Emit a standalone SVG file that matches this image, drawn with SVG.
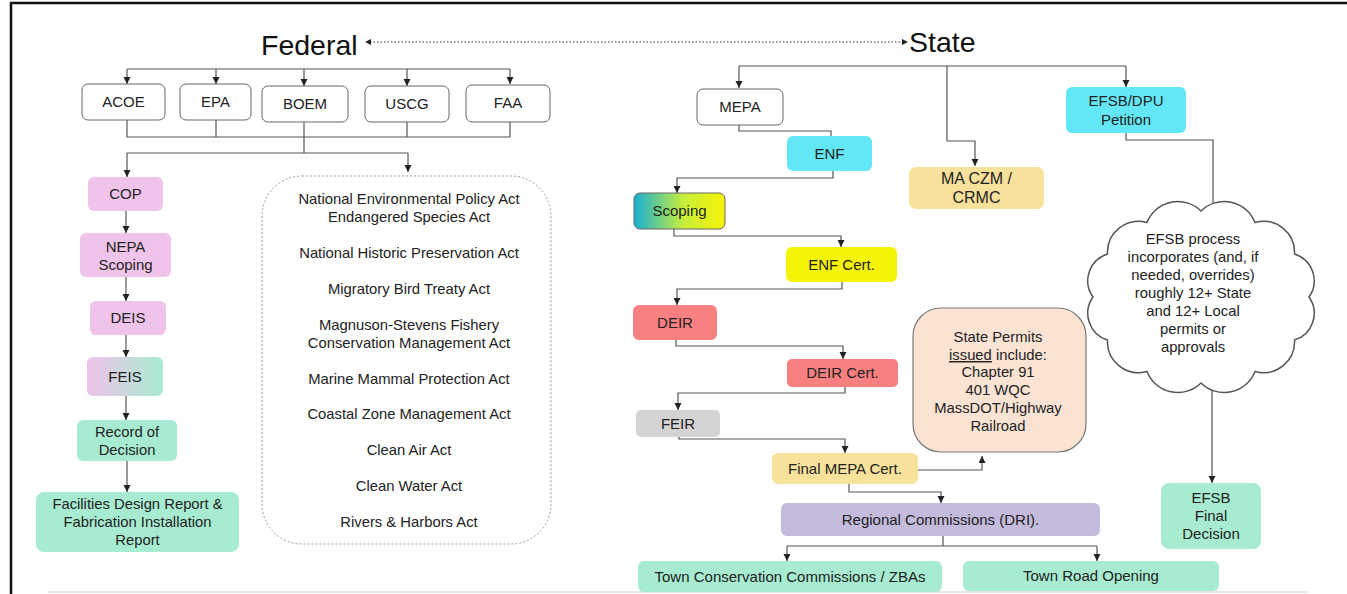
<svg xmlns="http://www.w3.org/2000/svg" width="1347" height="594" viewBox="0 0 1347 594">
<defs>
<marker id="arr" markerUnits="userSpaceOnUse" markerWidth="8" markerHeight="8" refX="7" refY="3.5" orient="auto"><path d="M0,0 L7,3.5 L0,7 z" fill="#222"/></marker>
<marker id="arrs" markerUnits="userSpaceOnUse" markerWidth="8" markerHeight="8" refX="1" refY="3" orient="auto-start-reverse"><path d="M0,0 L6,3 L0,6 z" fill="#222"/></marker>
<linearGradient id="gFeis" x1="0" y1="0" x2="1" y2="0"><stop offset="0" stop-color="#F0C3EA"/><stop offset="1" stop-color="#A7ECD1"/></linearGradient>
<linearGradient id="gScop" x1="0" y1="0" x2="1" y2="0"><stop offset="0" stop-color="#17AFD3"/><stop offset="0.55" stop-color="#C9EE3A"/><stop offset="1" stop-color="#F6F406"/></linearGradient>
<style>
text{font-family:"Liberation Sans",Arial,sans-serif;fill:#222;text-anchor:middle}
.t{font-size:15px}
.s{font-size:14.8px}
.h{font-size:28.5px;text-anchor:start;fill:#111}
.wb{fill:#fff;stroke:#666;stroke-width:1}
.pk{fill:#F0C3EA}
.gr{fill:#A7ECD1}
.cy{fill:#63E7F7}
.ye{fill:#F6F406}
.rd{fill:#F98080}
.gy{fill:#D3D3D3}
.or{fill:#F8E19A}
.lv{fill:#C4BADB}
.c path,.c line{fill:none;stroke:#555;stroke-width:1.2}
.a{marker-end:url(#arr)}
</style>
</defs>
<rect x="0" y="0" width="1347" height="594" fill="#fff"/>
<line x1="11" y1="2" x2="11" y2="594" stroke="#111" stroke-width="2.5"/>
<line x1="10" y1="3" x2="1347" y2="3" stroke="#111" stroke-width="2.5"/>
<line x1="48" y1="592" x2="1307" y2="592" stroke="#ddd" stroke-width="1.5"/>

<text class="h" x="261" y="55">Federal</text>
<text class="h" x="909" y="52">State</text>

<g class="c" id="connectors">
<line x1="370" y1="42" x2="903" y2="42" stroke-dasharray="1.5 2" style="stroke:#333;marker-start:url(#arrs);marker-end:url(#arrs)"/>
<path d="M127,69 H510"/>
<path class="a" d="M127,69 V84"/>
<path class="a" d="M216,69 V84"/>
<path class="a" d="M304,69 V86"/>
<path class="a" d="M407,69 V86"/>
<path class="a" d="M510,69 V84"/>
<path d="M127,120 V137 H510 V122"/>
<path d="M216,120 V137"/>
<path d="M407,122 V137"/>
<path d="M304,122 V153"/>
<path d="M127,153 H408"/>
<path class="a" d="M127,153 V177"/>
<path class="a" d="M408,153 V172"/>
<path class="a" d="M126,211 V233"/>
<path class="a" d="M126,277 V301"/>
<path class="a" d="M126,335 V357"/>
<path class="a" d="M126,396 V420"/>
<path class="a" d="M127,461 V492"/>

<path d="M739,66 H1126"/>
<path class="a" d="M739,66 V88"/>
<path class="a" d="M1126,66 V87"/>
<path class="a" d="M947,66 V141 H975 V166"/>
<path d="M739,125 V131 H831 V136"/>
<path class="a" d="M833,171 V178 H677 V193"/>
<path class="a" d="M674,229 V236 H841 V247"/>
<path class="a" d="M842,282 V289 H677 V305"/>
<path class="a" d="M676,340 V346 H843 V359"/>
<path class="a" d="M845,387 V393 H678 V410"/>
<path class="a" d="M679,437 V439 H845 V453"/>
<path class="a" d="M918,470 H982 V456"/>
<path class="a" d="M849,484 V492 H941 V503"/>
<path d="M943,536 V546"/>
<path d="M787,546 H1097"/>
<path class="a" d="M787,546 V561"/>
<path class="a" d="M1097,546 V561"/>
<path d="M1126,133 V140 H1213 V210"/>
<path class="a" d="M1212,385 V483"/>
</g>

<g id="acoe"><rect class="wb" x="82" y="84" width="83" height="36" rx="6"/><text class="t" x="123.5" y="107">ACOE</text></g>
<g id="epa"><rect class="wb" x="180" y="84" width="71" height="36" rx="6"/><text class="t" x="215.5" y="107">EPA</text></g>
<g id="boem"><rect class="wb" x="262" y="86" width="86" height="36" rx="6"/><text class="t" x="305" y="109">BOEM</text></g>
<g id="uscg"><rect class="wb" x="365" y="86" width="84" height="36" rx="6"/><text class="t" x="407" y="109">USCG</text></g>
<g id="faa"><rect class="wb" x="466" y="85" width="84" height="37" rx="6"/><text class="t" x="508" y="108">FAA</text></g>

<g id="cop"><rect class="pk" x="88" y="177" width="75" height="34" rx="6"/><text class="t" x="125.5" y="199">COP</text></g>
<g id="nepa"><rect class="pk" x="80" y="233" width="91" height="44" rx="6"/><text class="t" x="125.5" y="252">NEPA</text><text class="t" x="125.5" y="270">Scoping</text></g>
<g id="deis"><rect class="pk" x="90" y="301" width="76" height="34" rx="6"/><text class="t" x="128" y="323">DEIS</text></g>
<g id="feis"><rect fill="url(#gFeis)" x="87" y="357" width="76" height="39" rx="6"/><text class="t" x="125" y="382">FEIS</text></g>
<g id="rod"><rect class="gr" x="77" y="420" width="100" height="41" rx="6"/><text class="s" x="127" y="437">Record of</text><text class="s" x="127" y="455">Decision</text></g>
<g id="fac"><rect class="gr" x="36" y="492" width="203" height="60" rx="8"/><text class="s" x="137.5" y="509">Facilities Design Report &amp;</text><text class="s" x="137.5" y="527">Fabrication Installation</text><text class="s" x="137.5" y="545">Report</text></g>

<g id="acts">
<rect x="262" y="176" width="289" height="368" rx="40" fill="none" stroke="#999" stroke-width="1" stroke-dasharray="2 2"/>
<text class="s" x="409" y="204">National Environmental Policy Act</text>
<text class="s" x="409" y="222">Endangered Species Act</text>
<text class="s" x="409" y="258">National Historic Preservation Act</text>
<text class="s" x="409" y="294">Migratory Bird Treaty Act</text>
<text class="s" x="409" y="330">Magnuson-Stevens Fishery</text>
<text class="s" x="409" y="348">Conservation Management Act</text>
<text class="s" x="409" y="384">Marine Mammal Protection Act</text>
<text class="s" x="409" y="419">Coastal Zone Management Act</text>
<text class="s" x="409" y="455">Clean Air Act</text>
<text class="s" x="409" y="491">Clean Water Act</text>
<text class="s" x="409" y="527">Rivers &amp; Harbors Act</text>
</g>

<g id="mepa"><rect class="wb" x="697" y="89" width="86" height="36" rx="6"/><text class="t" x="740" y="112">MEPA</text></g>
<g id="enf"><rect class="cy" x="787" y="136" width="85" height="35" rx="6"/><text class="t" x="829.5" y="159">ENF</text></g>
<g id="scoping"><rect fill="url(#gScop)" stroke="#666" stroke-width="1" x="634" y="193" width="91" height="36" rx="6"/><text class="t" x="679.5" y="216">Scoping</text></g>
<g id="enfcert"><rect class="ye" x="786" y="247" width="111" height="35" rx="6"/><text class="t" x="841.5" y="270">ENF Cert.</text></g>
<g id="deir"><rect class="rd" x="633" y="305" width="84" height="35" rx="6"/><text class="t" x="675" y="328">DEIR</text></g>
<g id="deircert"><rect class="rd" x="787" y="359" width="111" height="28" rx="5"/><text class="t" x="842.5" y="378">DEIR Cert.</text></g>
<g id="feir"><rect class="gy" x="636" y="410" width="84" height="27" rx="5"/><text class="t" x="678" y="429">FEIR</text></g>
<g id="finalmepa"><rect class="or" x="772" y="453" width="146" height="31" rx="6"/><text class="t" x="845" y="474">Final MEPA Cert.</text></g>
<g id="regional"><rect class="lv" x="781" y="503" width="319" height="33" rx="6"/><text class="t" x="940.5" y="525">Regional Commissions (DRI).</text></g>
<g id="townconservation"><rect class="gr" x="638" y="561" width="304" height="31" rx="6"/><text class="t" x="790" y="582">Town Conservation Commissions / ZBAs</text></g>
<g id="townroad"><rect class="gr" x="963" y="561" width="256" height="30" rx="6"/><text class="t" x="1091" y="581">Town Road Opening</text></g>

<g id="maczm"><rect class="or" x="909" y="167" width="135" height="42" rx="7"/><text class="t" x="976.5" y="184" style="font-size:16px">MA CZM /</text><text class="t" x="976.5" y="203" style="font-size:16px">CRMC</text></g>
<g id="petition"><rect class="cy" x="1066" y="87" width="120" height="46" rx="6"/><text class="t" x="1126" y="106">EFSB/DPU</text><text class="t" x="1126" y="125">Petition</text></g>

<g id="statepermits">
<rect x="913" y="308" width="173" height="144" rx="28" fill="#FBE3D4" stroke="#777" stroke-width="1.2"/>
<text class="s" x="998" y="342">State Permits</text>
<text class="s" x="998" y="360"><tspan text-decoration="underline">issued</tspan> include:</text>
<text class="s" x="998" y="377">Chapter 91</text>
<text class="s" x="998" y="395">401 WQC</text>
<text class="s" x="998" y="413">MassDOT/Highway</text>
<text class="s" x="998" y="431">Railroad</text>
</g>

<g id="cloud">
<path d="M1201,211 A33,33 0 0 1 1255,222.5 A31,31 0 0 1 1294.5,254 A28,28 0 0 1 1309,297 A28,28 0 0 1 1294.5,340 A31,31 0 0 1 1255,371.5 A33,33 0 0 1 1201,383 A33,33 0 0 1 1147,371.5 A31,31 0 0 1 1107.5,340 A28,28 0 0 1 1093,297 A28,28 0 0 1 1107.5,254 A31,31 0 0 1 1147,222.5 A33,33 0 0 1 1201,211 Z" fill="#fff" stroke="#555" stroke-width="1.5"/>
<text class="s" x="1193" y="244">EFSB process</text>
<text class="s" x="1193" y="262">incorporates (and, if</text>
<text class="s" x="1193" y="280">needed, overrides)</text>
<text class="s" x="1193" y="298">roughly 12+ State</text>
<text class="s" x="1193" y="316">and 12+ Local</text>
<text class="s" x="1193" y="334">permits or</text>
<text class="s" x="1193" y="352">approvals</text>
</g>

<g id="efsbfinal"><rect class="gr" x="1161" y="483" width="100" height="66" rx="8"/><text class="t" x="1211" y="503">EFSB</text><text class="t" x="1211" y="521">Final</text><text class="t" x="1211" y="539">Decision</text></g>
</svg>
